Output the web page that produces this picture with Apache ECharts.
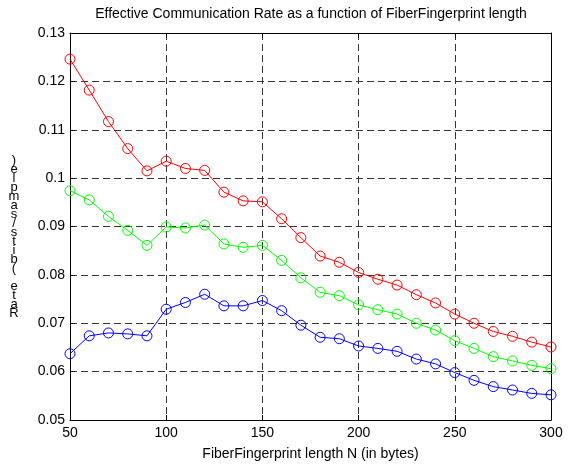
<!DOCTYPE html>
<html>
<head>
<meta charset="utf-8">
<script src="https://cdn.jsdelivr.net/npm/echarts@6/dist/echarts.min.js"></script>
<style>
  html, body { margin: 0; padding: 0; background: #fff; }
  #main { width: 577px; height: 466px; }
</style>
</head>
<body>
<div id="main"></div>
<script>
// 数据：N = 50..300，步长 10
var lengths = [50, 60, 70, 80, 90, 100, 110, 120, 130, 140, 150, 160, 170, 180, 190,
  200, 210, 220, 230, 240, 250, 260, 270, 280, 290, 300];
var redRate = [0.1246, 0.1182, 0.1117, 0.1061, 0.1015, 0.1035, 0.1020, 0.1016, 0.0971, 0.0953,
  0.0951, 0.0916, 0.0877, 0.0839, 0.0826, 0.0805, 0.0791, 0.0779, 0.0759, 0.0742,
  0.0719, 0.0700, 0.0683, 0.0673, 0.0661, 0.0651];
var greenRate = [0.0974, 0.0955, 0.0921, 0.0892, 0.0861, 0.0899, 0.0897, 0.0903, 0.0864, 0.0857,
  0.0861, 0.0830, 0.0794, 0.0764, 0.0757, 0.0738, 0.0728, 0.0719, 0.0700, 0.0686,
  0.0664, 0.0648, 0.0631, 0.0622, 0.0613, 0.0606];
var blueRate = [0.0637, 0.0674, 0.0680, 0.0678, 0.0674, 0.0729, 0.0743, 0.0760, 0.0736, 0.0736,
  0.0747, 0.0726, 0.0696, 0.0671, 0.0668, 0.0653, 0.0648, 0.0642, 0.0626, 0.0616,
  0.0598, 0.0582, 0.0569, 0.0562, 0.0555, 0.0552];

var font = '"Liberation Sans", Arial, sans-serif';
var yLabel = 'Rate (bits/sample)';

function pairs(vals) {
  return lengths.map(function (n, i) { return [n, vals[i]]; });
}

function makeSeries(name, color, vals) {
  return {
    name: name,
    type: 'line',
    data: pairs(vals),
    symbol: 'circle',
    symbolSize: 10,
    showSymbol: true,
    lineStyle: { color: color, width: 1 },
    itemStyle: { color: 'rgba(0,0,0,0)', borderColor: color, borderWidth: 1 },
    emphasis: { disabled: true },
    z: 3
  };
}

var gridLine = { show: true, lineStyle: { color: '#333', type: [7, 4], width: 1 } };
var axisLine = { show: true, lineStyle: { color: '#000', width: 1 } };
var tick = { show: true, inside: true, length: 5, lineStyle: { color: '#000' } };

var myChart = echarts.init(document.getElementById('main'));

var option = {
  animation: false,
  backgroundColor: '#fff',
  grid: { left: 70, right: 26, top: 33, bottom: 43 },
  xAxis: [
    {
      type: 'value', min: 50, max: 300, interval: 50,
      axisLine: axisLine, axisTick: tick, splitLine: gridLine,
      axisLabel: { color: '#000', fontFamily: font, fontSize: 14, margin: 6 },
      name: 'FiberFingerprint length N (in bytes)',
      nameLocation: 'middle', nameGap: 27,
      nameTextStyle: { color: '#000', fontFamily: font, fontSize: 14 }
    },
    {
      type: 'value', min: 50, max: 300, interval: 50, position: 'top',
      axisLine: axisLine, axisTick: tick, splitLine: { show: false },
      axisLabel: { show: false }
    }
  ],
  yAxis: [
    {
      type: 'value', min: 0.05, max: 0.13, interval: 0.01,
      axisLine: axisLine, axisTick: tick, splitLine: gridLine,
      axisLabel: {
        color: '#000', fontFamily: font, fontSize: 14, margin: 5,
        formatter: function (v) { return String(parseFloat(v.toFixed(2))); }
      }
    },
    {
      type: 'value', min: 0.05, max: 0.13, interval: 0.01, position: 'right',
      axisLine: axisLine, axisTick: tick, splitLine: { show: false },
      axisLabel: { show: false }
    }
  ],
  graphic: [
    {
      type: 'text', x: 311, y: 7,
      style: {
        text: 'Effective Communication Rate as a function of FiberFingerprint length',
        fill: '#000', font: '14px ' + font, textAlign: 'center', textVerticalAlign: 'top'
      }
    },
    {
      // 纵轴标题：字母竖向堆叠
      type: 'text', x: 14, y: 156,
      style: {
        text: yLabel.split('').reverse().join('\n'),
        fill: '#000', font: '13px ' + font, lineHeight: 9,
        textAlign: 'center', textVerticalAlign: 'top'
      }
    }
  ],
  series: [
    makeSeries('red', '#ff0000', redRate),
    makeSeries('green', '#00ff00', greenRate),
    makeSeries('blue', '#0000ff', blueRate)
  ]
};

myChart.setOption(option);
</script>
</body>
</html>
